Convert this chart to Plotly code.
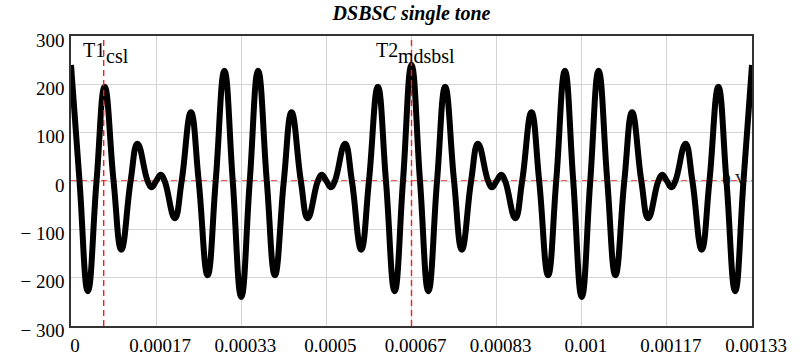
import plotly.graph_objects as go

# ---- data (time in microseconds, voltage) ----
# extrema and zero crossings of the DSBSC waveform, first period
t_us_p1 = [0.0, 16.667, 33.0, 50.0, 65.9, 83.333, 98.55, 116.667, 130.17, 150.0,
           157.54, 166.667, 175.80, 183.333, 203.17, 216.667, 234.78, 250.0, 267.44, 283.333,
           300.35, 316.667, 333.333, 350.0, 366.32, 383.333, 399.23, 416.667, 431.88, 450.0,
           463.50, 483.333, 490.87, 500.0, 509.13, 516.667, 536.50, 550.0, 568.12, 583.333,
           600.77, 616.667, 633.68, 650.0]
v_p1 = [240, 0, -228, 0, 195, 0, -142, 0, 77, 0,
        -13, 0, 13, 0, -77, 0, 142, 0, -195, 0,
        228, 0, -240, 0, 228, 0, -195, 0, 142, 0,
        -77, 0, 13, 0, -13, 0, 77, 0, -142, 0,
        195, 0, -228, 0]
# second period
t_us_p2 = [666.667, 683.333, 699.67, 716.667, 732.57, 750.0, 765.22, 783.333, 796.83, 816.667,
           824.21, 833.333, 842.47, 850.0, 869.83, 883.333, 901.45, 916.667, 934.10, 950.0,
           967.01, 983.333, 1000.0, 1016.667, 1032.99, 1050.0, 1065.90, 1083.333, 1098.55, 1116.667,
           1130.17, 1150.0, 1157.54, 1166.667, 1175.80, 1183.333, 1203.17, 1216.667, 1234.78, 1250.0,
           1267.44, 1283.333, 1300.35, 1316.667, 1333.333]
v_p2 = [240, 0, -228, 0, 195, 0, -142, 0, 77, 0,
        -13, 0, 13, 0, -77, 0, 142, 0, -195, 0,
        228, 0, -240, 0, 228, 0, -195, 0, 142, 0,
        -77, 0, 13, 0, -13, 0, 77, 0, -142, 0,
        195, 0, -228, 0, 240]

# cursors
T1_time = 6.4e-5
T2_time = 6.6667e-4

# axis ticks
x_tick_vals = [0, 0.00016667, 0.00033333, 0.0005, 0.00066667, 0.00083333, 0.001, 0.00116667, 0.00133333]
x_tick_text = ["0", "0.00017", "0.00033", "0.0005", "0.00067", "0.00083", "0.001", "0.00117", "0.00133"]
y_tick_vals = [-300, -200, -100, 0, 100, 200, 300]
y_tick_text = ["\u2212 300", "\u2212 200", "\u2212 100", "0", "100", "200", "300"]

zero_label_time = 1.3235e-3

t_sec = [v * 1e-6 for v in t_us_p1 + t_us_p2]
volts = v_p1 + v_p2

SERIF = "Liberation Serif, Times New Roman, serif"
RED = "#ff1a1a"

fig = go.Figure()

# "0 V" label sits under the waveform
fig.add_trace(go.Scatter(
    x=[zero_label_time], y=[0], mode="text", text=["0 V"],
    textposition="middle left",
    textfont=dict(family=SERIF, size=17, color="#222222"),
    hoverinfo="skip", showlegend=False, cliponaxis=False))

fig.add_trace(go.Scatter(
    x=t_sec, y=volts, mode="lines",
    line=dict(color="black", width=6, shape="spline", smoothing=1.3),
    showlegend=False))

# zero reference line (below the curve)
fig.add_shape(type="line", xref="paper", x0=0, x1=1, yref="y", y0=0, y1=0,
              line=dict(color=RED, width=1.4, dash="6px,4px"), layer="below")
# cursor lines
for tc in (T1_time, T2_time):
    fig.add_shape(type="line", xref="x", x0=tc, x1=tc, yref="paper", y0=0, y1=1,
                  line=dict(color=RED, width=1.4, dash="6px,4px"), layer="above")

ann_font = dict(family=SERIF, size=20, color="black")
fig.add_annotation(x=T1_time, xref="x", xanchor="right", xshift=3,
                   y=0.953, yref="paper", yanchor="middle",
                   text="T1", showarrow=False, font=ann_font)
fig.add_annotation(x=T1_time, xref="x", xanchor="left", xshift=0,
                   y=0.93, yref="paper", yanchor="middle",
                   text="csl", showarrow=False, font=ann_font)
fig.add_annotation(x=T2_time, xref="x", xanchor="right", xshift=-12,
                   y=0.953, yref="paper", yanchor="middle",
                   text="T2", showarrow=False, font=ann_font)
fig.add_annotation(x=T2_time, xref="x", xanchor="left", xshift=-16,
                   y=0.93, yref="paper", yanchor="middle",
                   text="mdsbsl", showarrow=False, font=ann_font)

fig.update_layout(
    width=798, height=360,
    margin=dict(l=71, r=46, t=36, b=34, autoexpand=False),
    paper_bgcolor="white", plot_bgcolor="white",
    font=dict(family=SERIF, size=19, color="black"),
    title=dict(text="<b><i>DSBSC single tone</i></b>",
               font=dict(family=SERIF, size=20, color="black"),
               x=0.5, xref="paper", xanchor="center",
               y=1 - 13 / 360, yref="container", yanchor="middle"),
    showlegend=False,
)
fig.update_xaxes(range=[0, x_tick_vals[-1]], tickmode="array",
                 tickvals=x_tick_vals, ticktext=x_tick_text,
                 showgrid=True, gridcolor="#d4d4d4", gridwidth=1,
                 zeroline=False, showline=True, mirror=True,
                 linecolor="#333333", linewidth=1.5, ticks="",
                 automargin=False,
                 ticklabelstandoff=1, ticklabelshift=4)
fig.update_yaxes(range=[-300, 300], tickmode="array",
                 tickvals=y_tick_vals, ticktext=y_tick_text,
                 showgrid=True, gridcolor="#d4d4d4", gridwidth=1,
                 zeroline=False, showline=True, mirror=True,
                 linecolor="#333333", linewidth=1.5, ticks="",
                 automargin=False,
                 ticklabelstandoff=1, ticklabelshift=4)

fig.write_html("out.html",
               config={"displayModeBar": False},
               post_script="document.body.style.margin='0px';")
